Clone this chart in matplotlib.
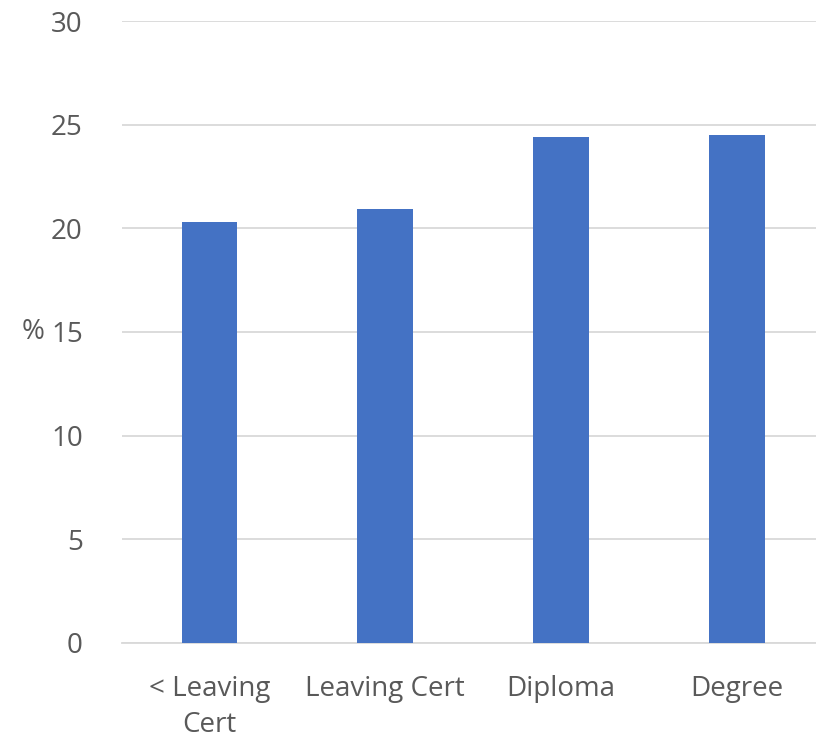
import matplotlib.pyplot as plt

# Share of respondents by education level
categories = ['< Leaving\nCert', 'Leaving Cert', 'Diploma', 'Degree']
values = [20.3, 20.93, 24.41, 24.48]
yticks = [0, 5, 10, 15, 20, 25, 30]

plt.rcParams['font.family'] = ['Open Sans', 'DejaVu Sans']

fig = plt.figure(figsize=(8.16, 7.35), dpi=100)
ax = fig.add_axes([0.149, 0.1252, 0.851, 0.8462])

x = range(len(categories))
ax.bar(x, values, width=0.318, color='#4472C4', zorder=3)

ax.set_xlim(-0.5, 3.45)
ax.set_ylim(0, 30)
ax.set_yticks(yticks)
ax.set_xticks(list(x))
ax.set_xticklabels(categories, linespacing=1.38)

ax.grid(axis='y', color='#D9D9D9', linewidth=1.3, zorder=0)
for side in ['top', 'right', 'left']:
    ax.spines[side].set_visible(False)
ax.spines['bottom'].set_color('#D9D9D9')
ax.spines['bottom'].set_linewidth(1.3)

ax.tick_params(axis='both', length=0, labelsize=20, labelcolor='#595959')
ax.tick_params(axis='y', pad=28)
ax.tick_params(axis='x', pad=23)

ax.set_ylabel('%', rotation=0, fontsize=20, color='#595959',
              labelpad=5, ha='right', va='center')

fig.savefig('out.png', dpi=100)
